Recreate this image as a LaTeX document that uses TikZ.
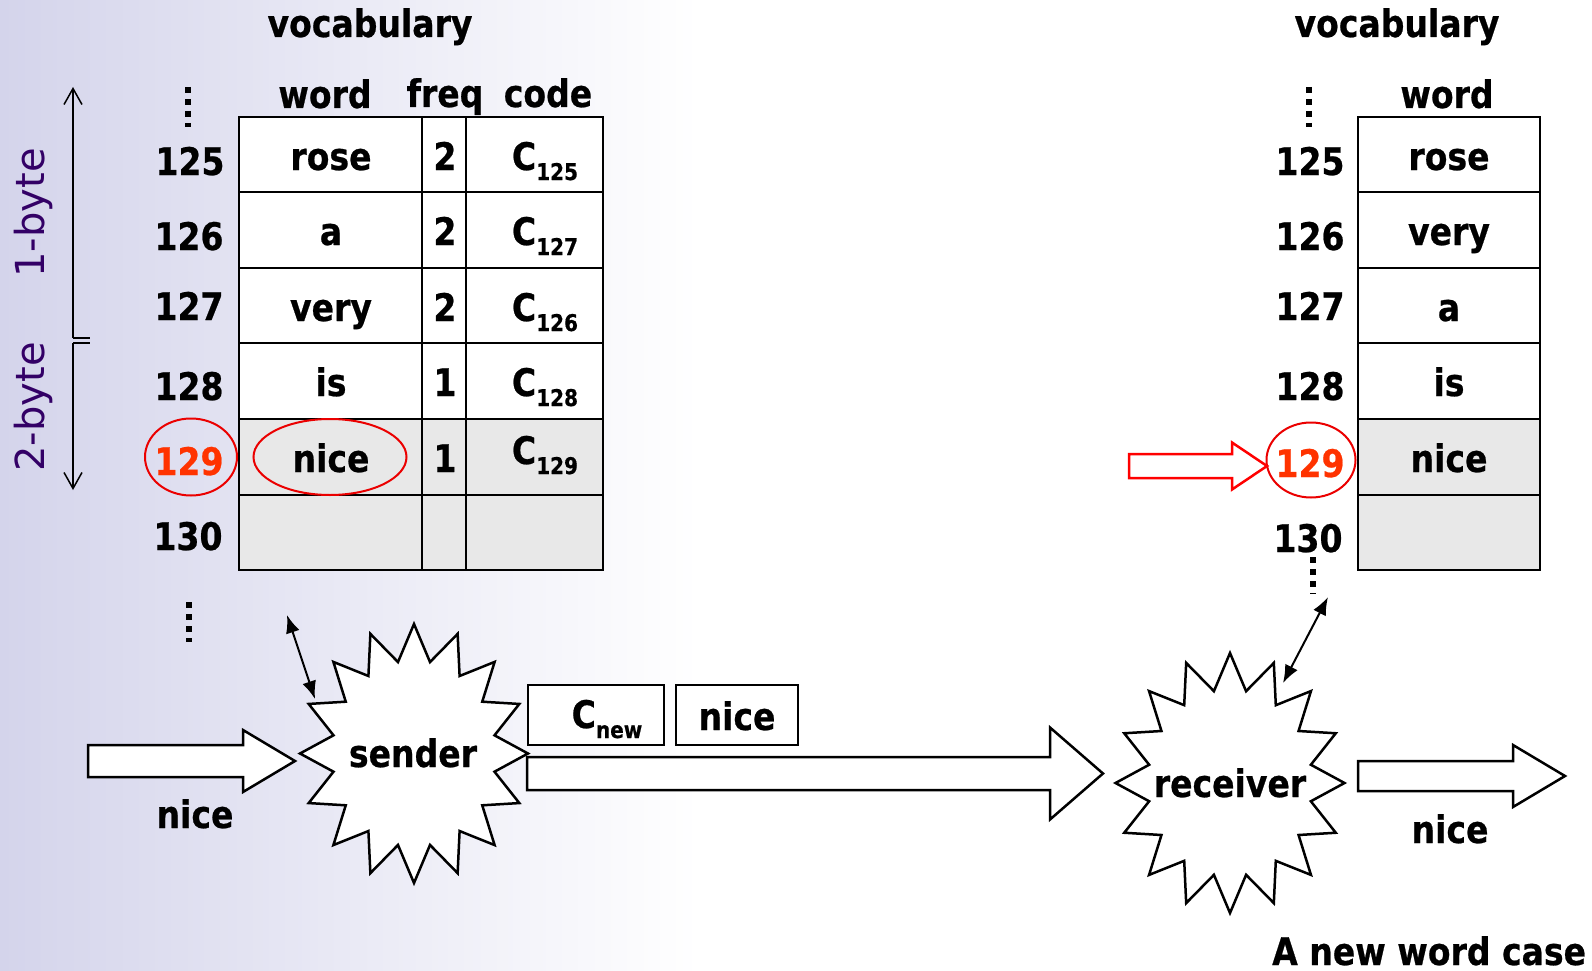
\documentclass[tikz,border=0pt]{standalone}
\usepackage{fontspec}
\setmainfont{DejaVu Sans}[FakeStretch=0.87, BoldFeatures={FakeBold=0.6}]
\newfontfamily\bytefont{DejaVu Sans}
\usetikzlibrary{arrows.meta,shapes.geometric}

\definecolor{lav}{RGB}{212,212,235}
\definecolor{cellgray}{RGB}{232,232,232}
\definecolor{hired}{RGB}{255,51,0}
\definecolor{ringred}{RGB}{235,0,0}
\definecolor{bytepurple}{RGB}{51,0,102}

% code word with a numeric subscript
\newcommand\codeword[1]{C\raisebox{-10pt}{\fontsize{23}{23}\selectfont #1}}
% hollow block arrow: style, tail x, head base x, tip x, centre y, shaft half height, head half height
\newcommand\blockarrow[7]{%
  \draw[#1] (#2,#5-#6) -- (#3,#5-#6) -- (#3,#5-#7) -- (#4,#5)
     -- (#3,#5+#7) -- (#3,#5+#6) -- (#2,#5+#6) -- cycle;}
% 16-point burst on an ellipse: centre x, centre y, x radius, y radius
\newcommand\burst[4]{%
  \draw[burstline] plot[samples at={0,...,31}]
    ({#1+#3*ifthenelse(mod(\x,2)==0,1,0.72)*cos(\x*11.25)},
     {#2+#4*ifthenelse(mod(\x,2)==0,1,0.72)*sin(\x*11.25)}) -- cycle;}

\tikzset{
  txt/.style={font=\fontsize{38}{40}\selectfont\bfseries, inner sep=0pt, anchor=base},
  redtxt/.style={txt, text=hired},
  cell/.style={draw=black, line width=2.5pt, fill=white},
  graycell/.style={cell, fill=cellgray},
  ring/.style={draw=ringred, line width=2pt, ellipse, inner sep=0pt},
  burstline/.style={draw=black, line width=2.5pt, fill=white, line join=miter},
  blk/.style={draw=black, line width=2.5pt, fill=white, line join=miter},
  redblk/.style={draw=red, line width=2.5pt, fill=white, line join=miter},
  msgbox/.style={draw=black, line width=2.5pt, fill=white},
  link/.style={line width=2pt, {Latex[length=18pt,width=14pt]}-{Latex[length=18pt,width=14pt]}},
  span/.style={line width=1.5pt, -{Straight Barb[length=16pt,width=18pt]}},
  tick/.style={line width=1.5pt},
  vdots/.style={line width=6pt, dash pattern=on 6pt off 6pt},
  bytelabel/.style={font=\bytefont\fontsize{40}{42}\selectfont, text=bytepurple, rotate=90, inner sep=0pt},
}

\begin{document}
\begin{tikzpicture}[x=1pt,y=-1pt]
\useasboundingbox (0,0) rectangle (1592,971);
\fill[white] (0,0) rectangle (1592,971);
\shade[left color=lav, right color=white] (0,0) rectangle (700,971);

% ---------- sender side vocabulary ----------
\node[txt] (vocL) at (370,37) {vocabulary};
\node[txt] (hWordL) at (325,108) {word};
\node[txt] (hFreq) at (445,107) {freq};
\node[txt] (hCode) at (548,107) {code};

\foreach \t/\b/\st in {117/192/cell,192/268/cell,268/343/cell,343/419/cell,419/495/graycell,495/570/graycell}{
  \draw[\st] (239,\t) rectangle (422,\b);
  \draw[\st] (422,\t) rectangle (466,\b);
  \draw[\st] (466,\t) rectangle (603,\b);
}

\node[txt] (wL1) at (331,170) {rose};
\node[txt] (wL2) at (331,245) {a};
\node[txt] (wL3) at (331,321) {very};
\node[txt] (wL4) at (331,396) {is};
\node[txt] (wL5) at (331,472) {nice};
\node[txt] (f1) at (445,170) {2};
\node[txt] (f2) at (445,245) {2};
\node[txt] (f3) at (445,321) {2};
\node[txt] (f4) at (445,396) {1};
\node[txt] (f5) at (445,472) {1};
\node[txt] (c1) at (545,170) {\codeword{125}};
\node[txt] (c2) at (545,245) {\codeword{127}};
\node[txt] (c3) at (545,321) {\codeword{126}};
\node[txt] (c4) at (545,396) {\codeword{128}};
\node[txt] (c5) at (545,464) {\codeword{129}};

\node[txt] (iL1) at (190,175) {125};
\node[txt] (iL2) at (189,250) {126};
\node[txt] (iL3) at (189,320) {127};
\node[txt] (iL4) at (189,400) {128};
\node[redtxt] (iL5) at (189,475) {129};
\node[txt] (iL6) at (188,550) {130};

\node[ring, minimum width=92pt, minimum height=77pt] (ringIdxL) at (191,457) {};
\node[ring, minimum width=153pt, minimum height=76pt] (ringWord) at (330,457) {};

\draw[vdots] (188,87) -- (188,127);
\draw[vdots] (189,602) -- (189,642);

% 1-byte / 2-byte ranges
\coordinate (spanTop) at (73,87);
\coordinate (spanMidA) at (73,338);
\coordinate (spanMidB) at (73,343);
\coordinate (spanBot) at (73,490);
\draw[span] (spanMidA) -- (spanTop);
\draw[span] (spanMidB) -- (spanBot);
\draw[tick] (spanMidA) -- ++(17,0);
\draw[tick] (spanMidB) -- ++(17,0);
\node[bytelabel] (oneByte) at (33,213) {1-byte};
\node[bytelabel] (twoByte) at (33,407) {2-byte};

% ---------- receiver side vocabulary ----------
\node[txt] (vocR) at (1397,37) {vocabulary};
\node[txt] (hWordR) at (1447,108) {word};
\foreach \t/\b/\st in {117/192/cell,192/268/cell,268/343/cell,343/419/cell,419/495/graycell,495/570/graycell}{
  \draw[\st] (1358,\t) rectangle (1540,\b);
}
\node[txt] (wR1) at (1449,170) {rose};
\node[txt] (wR2) at (1449,245) {very};
\node[txt] (wR3) at (1449,321) {a};
\node[txt] (wR4) at (1449,396) {is};
\node[txt] (wR5) at (1449,472) {nice};

\node[txt] (iR1) at (1310,175) {125};
\node[txt] (iR2) at (1310,250) {126};
\node[txt] (iR3) at (1310,320) {127};
\node[txt] (iR4) at (1310,400) {128};
\node[redtxt] (iR5) at (1310,477) {129};
\node[txt] (iR6) at (1308,552) {130};

\node[ring, minimum width=89pt, minimum height=75pt] (ringIdxR) at (1311,460) {};
\draw[vdots] (1309,87) -- (1309,127);
\draw[vdots] (1313,557) -- (1313,594);

\blockarrow{redblk}{1129}{1232}{1267}{466}{12}{23.5}

% ---------- sender / receiver ----------
\blockarrow{blk}{88}{243}{295}{761}{16}{31}
\node[txt] (inWord) at (195,828) {nice};

\burst{414}{753.5}{114}{129.5}
\node[txt] (sender) at (413,767) {sender};

\blockarrow{blk}{527}{1050}{1103}{773.5}{16.5}{46}
\node[msgbox, minimum width=136pt, minimum height=60pt, inner sep=0pt] (codeBox) at (596,715) {};
\node[txt] (codeNew) at (607,728) {\codeword{new}};
\node[msgbox, minimum width=122pt, minimum height=60pt, inner sep=0pt] (wordBox) at (737,715) {};
\node[txt] (wordNew) at (737,730) {nice};

\burst{1230}{783}{114.5}{130}
\node[txt] (receiver) at (1230,797) {receiver};

\blockarrow{blk}{1358}{1513}{1565}{776}{15}{31}
\node[txt] (outWord) at (1450,843) {nice};

% table lookups
\coordinate (sendA) at (287,615);
\coordinate (sendB) at (315,699);
\draw[link] (sendA) -- (sendB);
\coordinate (recvA) at (1328,597);
\coordinate (recvB) at (1283,683);
\draw[link] (recvA) -- (recvB);

\node[txt, anchor=base west] (caption) at (1272,965) {A new word case};
\end{tikzpicture}
\end{document}
